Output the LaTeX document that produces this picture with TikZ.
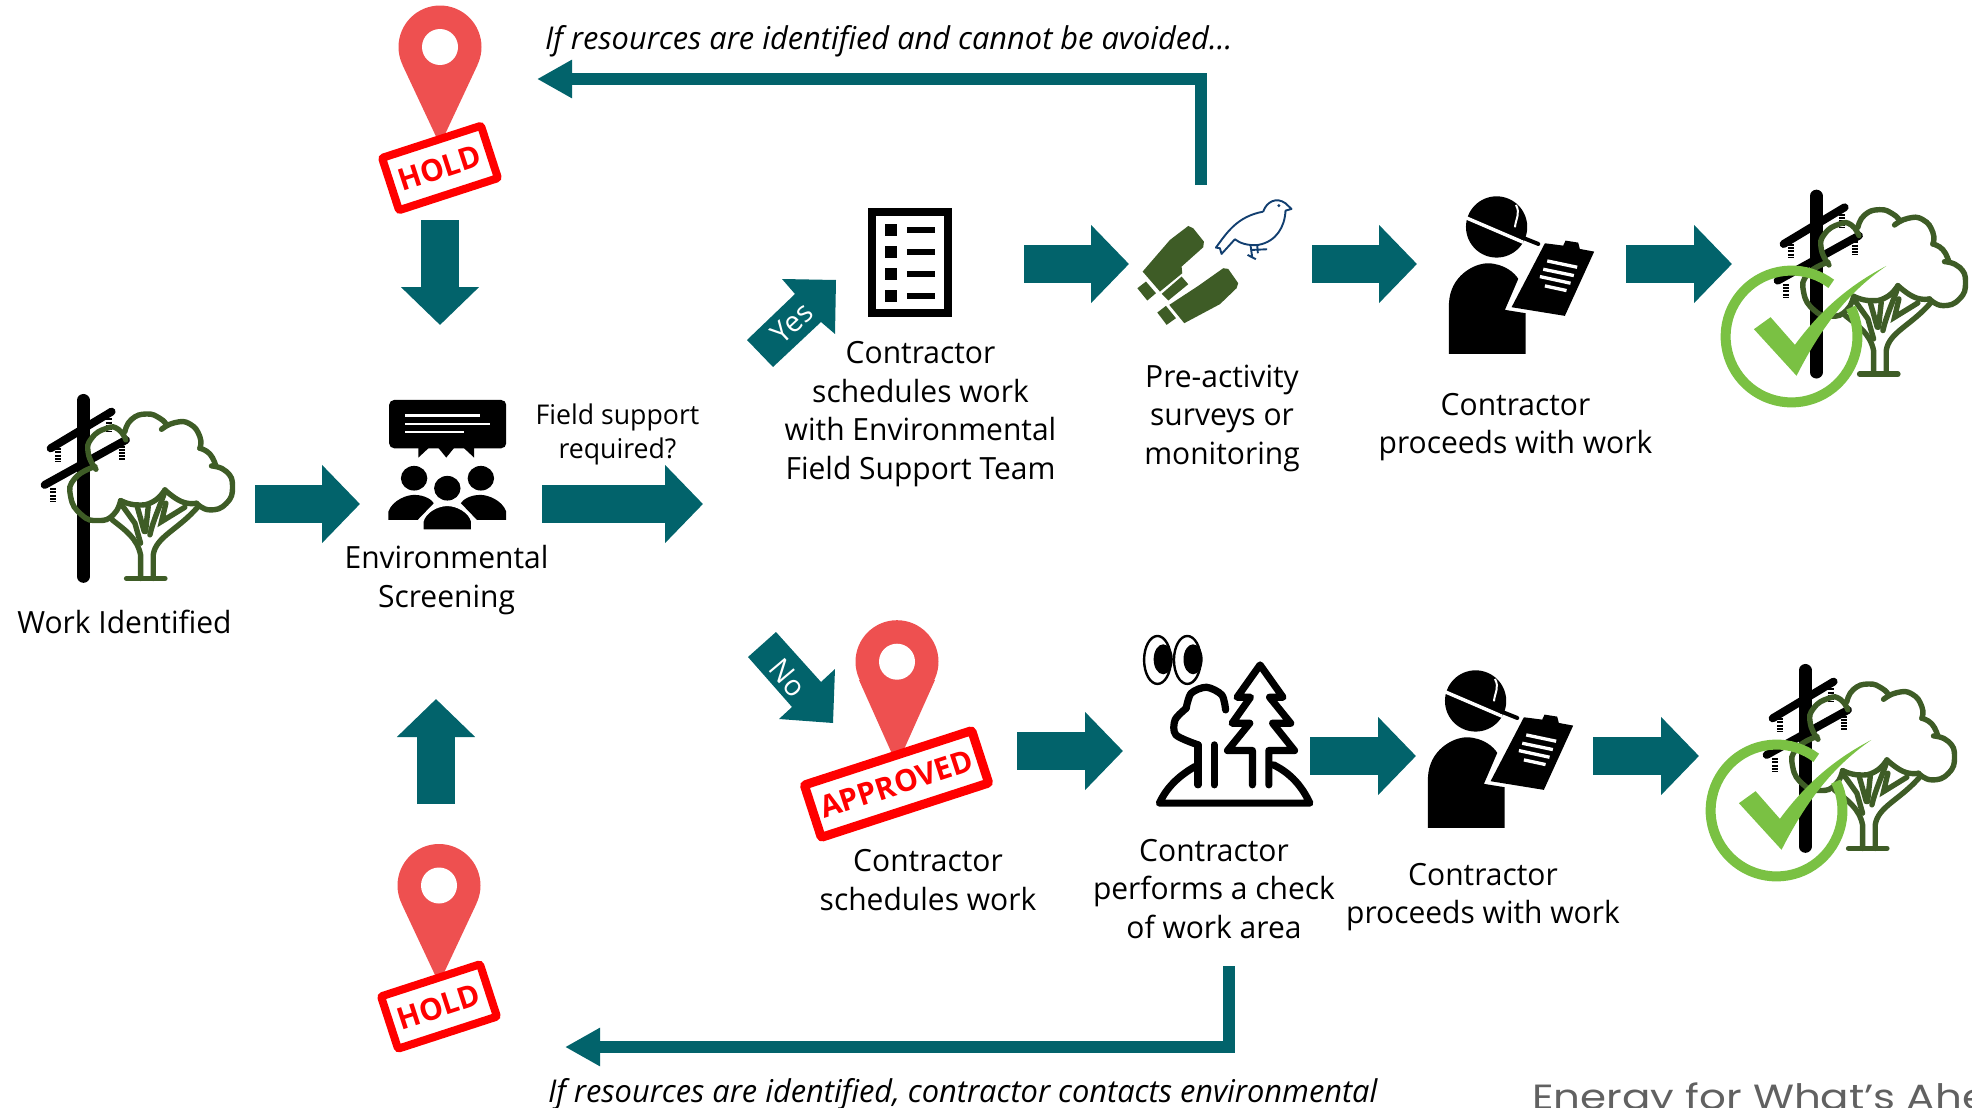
\documentclass[tikz,border=0pt]{standalone}
\usepackage{fontspec}
\setmainfont{Open Sans}[FakeStretch=0.98]
\newfontfamily\energyfont{Poppins}[FakeStretch=1.2]
\usetikzlibrary{arrows.meta}
\definecolor{flowteal}{HTML}{02636B}
\definecolor{pinred}{HTML}{EE5050}
\definecolor{treegreen}{HTML}{3E5C26}
\definecolor{checkgreen}{HTML}{7AC143}
\definecolor{birdblue}{HTML}{123F70}

\tikzset{
  flowarrow/.style={draw=flowteal,line width=19pt,-{Triangle[length=19pt,width=38pt]}},
  elbowarrow/.style={draw=flowteal,line width=6pt,-{Triangle[length=17.5pt,width=18pt]}},
  label/.style={align=center,font=\fontsize{15.3}{19.25}\selectfont},
  note/.style={anchor=west,font=\fontsize{15.7}{19}\selectfont\itshape},
  stamp/.style={draw=red,fill=white,text=red,rounded corners=1pt,rotate=18,inner sep=0pt,font=\fontsize{15.2}{17}\selectfont\bfseries},
  lobe/.style={smooth,tension=0.9},
  poletree/.pic={
    \begin{scope}[scale=0.333]
    % pole and cross arms
    \draw[line width=6.35pt,line cap=round] (100,31) -- (100,560);
    \draw[line width=4pt,line cap=round] (2,175) -- (185,65);
    \draw[line width=4pt,line cap=round] (-16,285) -- (228,150);
    \foreach \ix/\iy in {25/175,178/85,215/167,9/295}
      \draw[line width=3pt,dash pattern=on 1pt off 0.6pt] (\ix,\iy) -- ++(0,42);
    % crown of the tree
    \begin{scope}[draw=treegreen,line width=2.7pt,line cap=round]
    \draw plot[lobe] coordinates {(138,238) (115,190) (125,145) (170,115) (205,118) (228,150)};
    \draw plot[lobe] coordinates {(225,125) (245,88) (290,72) (330,85) (350,105)};
    \draw plot[lobe] coordinates {(335,118) (375,98) (420,102) (450,140) (450,175)};
    \draw plot[lobe] coordinates {(450,175) (480,192) (498,228)};
    \draw plot[lobe] coordinates {(485,228) (530,245) (548,290) (530,340) (480,360) (440,340)};
    \draw plot[lobe] coordinates {(440,340) (395,335) (345,300)};
    \draw plot[lobe] coordinates {(345,300) (310,335) (260,345) (212,332)};
    \draw plot[lobe] coordinates {(212,332) (190,375) (145,392) (95,375) (62,320) (75,265) (135,230)};
    % trunk
    \draw (230,566) -- (345,566);
    \draw (272,566) -- (272,495) .. controls (262,445) and (225,420) .. (187,390);
    \draw (310,566) -- (310,495) .. controls (318,440) and (385,420) .. (445,350);
    \draw (212,340) -- (255,400) -- (272,460);
    \draw (262,350) -- (283,425);
    \draw (295,350) -- (287,425);
    \draw (345,305) .. controls (330,350) and (310,390) .. (300,435);
    \draw (348,340) -- (335,395) -- (405,352);
    \end{scope}
    \end{scope}
  },
  donecheck/.pic={
    \begin{scope}[scale=0.333]
    \draw[checkgreen,line width=5pt] plot[domain=53:386,samples=70] ({335+198*cos(\x)},{500-198*sin(\x)});
    \fill[checkgreen] (222,478) -- (272,442) -- (345,525) .. controls (430,410) and (520,340) .. (620,288)
      .. controls (500,370) and (420,480) .. (350,618) -- cycle;
    \end{scope}
  },
  holdpin/.pic={
    \fill[pinred] (0,0) circle[radius=41.5] (-37.5,18) -- (37.5,18) -- (0,98) -- cycle;
    \fill[white] (0,0) circle[radius=18];
    \node[stamp,line width=4pt,minimum width=52pt,minimum height=27.5pt] (-stamp) at (0,121) {HOLD};
  },
  contractor/.pic={
    \begin{scope}[scale=0.333]
    \fill (200,141) circle[radius=92];
    \draw[white,line width=1.7pt] (105,112) -- (280,187);
    \draw[line width=2pt,line cap=round] (275,172) -- (325,192);
    \draw[white,line width=1pt] (258,75) .. controls (272,100) and (258,115) .. (255,142);
    \fill (57,522) -- (57,370) .. controls (60,290) and (130,250) .. (175,250)
      .. controls (225,252) and (255,280) .. (265,297) -- (225,390) -- (287,400) -- (287,522) -- cycle;
    \fill (345,190) -- (400,197) -- (407,182) -- (445,188) -- (450,207) -- (493,215) -- (405,408) -- (245,382) -- cycle;
    \foreach \ax/\ay/\bx/\by in {352/243/442/262,340/268/432/287,330/290/422/310,345/318/410/332}
      \draw[white,line width=1.65pt] (\ax,\ay) -- (\bx,\by);
    \end{scope}
  },
}

\begin{document}
\begin{tikzpicture}[x=0.5pt,y=-0.5pt]
\path[use as bounding box,clip] (0,0) rectangle (1972,1108);

% Work identified
\pic (workstart) at (50,390) {poletree};
\node[label] (workident) at (124.5,622) {Work Identified};

% Environmental screening icon
\begin{scope}[shift={(0,380)},xscale=0.357,yscale=0.333]
\fill[rounded corners=2.5pt] (1090,60) rectangle (1418,205);
\fill (1172,200) -- (1172,233) -- (1205,200) -- cycle (1225,200) -- (1250,233) -- (1275,200) -- cycle (1295,200) -- (1328,233) -- (1328,200) -- cycle;
\foreach \lx/\ly in {1345/107,1372/132,1300/157}
  \draw[white,line width=1.2pt] (1135,\ly) -- (\lx,\ly);
\fill (1160,295) ellipse[x radius=37,y radius=37] (1347,295) ellipse[x radius=37,y radius=37];
\fill (1088,420) -- (1088,395) .. controls (1100,360) and (1140,345) .. (1160,345) .. controls (1190,345) and (1210,360) .. (1215,370) -- (1170,420) -- cycle;
\fill (1418,420) -- (1418,395) .. controls (1406,360) and (1366,345) .. (1346,345) .. controls (1316,345) and (1296,360) .. (1291,370) -- (1336,420) -- cycle;
\fill[draw=white,line width=1.2pt] (1183,452) -- (1183,425) .. controls (1190,395) and (1225,375) .. (1253,375) .. controls (1281,375) and (1316,395) .. (1323,425) -- (1323,452) -- cycle;
\fill (1253,325) ellipse[x radius=37,y radius=37];
\end{scope}
\node[label] (screening) at (446.5,580) {Environmental\\Screening};
\node[align=center,font=\fontsize{13.6}{17}\selectfont] (fieldsupport) at (617.5,434) {Field support\\required?};

% Hold pins
\pic (holdtop) at (440,47) {holdpin};
\pic (holdbottom) at (439,885.5) {holdpin};

% Yes branch
\fill[flowteal] (747,340) -- (795,294) -- (782,279) -- (836,280) -- (835,334) -- (821,322) -- (773,367) -- cycle;
\node[white,rotate=43,font=\fontsize{14.5}{16}\selectfont] (yeslabel) at (792,323) {Yes};
\begin{scope}[shift={(730,190)},scale=0.333]
\draw[line width=4pt] (425,67) rectangle (656,370);
\foreach \iy in {120,186,252,318}{
  \fill (465,\iy-18) rectangle (500,\iy+17);
  \draw[line width=3pt] (531,\iy) -- (615,\iy);
}
\end{scope}
\node[label] (schedfield) at (920.5,414) {Contractor\\schedules work\\with Environmental\\Field Support Team};

% Binoculars and bird
\begin{scope}[shift={(1120,170)},scale=0.333]
\fill[treegreen] (68,305) -- (150,210) -- (205,168) -- (220,175) -- (252,215) -- (250,232) -- (185,290) -- (187,310) -- (120,365) -- cycle;
\fill[treegreen] (52,355) -- (78,335) -- (108,370) -- (82,392) -- cycle;
\fill[treegreen] (125,372) -- (185,320) -- (205,343) -- (145,392) -- cycle;
\fill[treegreen] (148,405) -- (235,348) -- (310,295) -- (325,297) -- (355,340) -- (350,355) -- (300,403) -- (193,460) -- cycle;
\fill[treegreen] (112,428) -- (138,408) -- (168,445) -- (140,465) -- cycle;
\draw[birdblue,line width=0.95pt,line join=round] (430,125) .. controls (440,95) and (470,80) .. (497,100) -- (515,117) -- (497,122)
  .. controls (495,170) and (470,215) .. (415,225) .. controls (385,228) and (360,220) .. (345,208)
  -- (305,252) -- (300,235) -- (288,233) .. controls (320,190) and (350,140) .. (430,125);
\fill[birdblue] (477,107) circle[radius=5];
\draw[birdblue,line width=0.95pt] (392,226) -- (397,262) (383,255) -- (408,268) (412,226) -- (414,250) (397,240) -- (442,238);
\end{scope}
\node[label] (preactivity) at (1222,418) {Pre-activity\\surveys or\\monitoring};

% Contractor proceeds, upper row
\pic (proceedtop) at (1430,180) {contractor};
\node[label] (proceedone) at (1515.5,427) {Contractor\\proceeds with work};
\pic (doneone) at (1783,185.7) {poletree};
\pic (checkone) at (1680,170) {donecheck};

% No branch
\fill[flowteal] (748,657) -- (776,632) -- (821,682) -- (835,669) -- (833,723) -- (779,719) -- (792,707) -- cycle;
\node[white,rotate=-50,font=\fontsize{14.5}{16}\selectfont] (nolabel) at (788,678) {No};
\fill[pinred] (897,661.7) circle[radius=41.5] (859,680) -- (935,680) -- (897,765) -- cycle;
\fill[white] (897,661.7) circle[radius=18];
\node[stamp,line width=4.5pt,minimum width=88pt,minimum height=27.5pt] (approved) at (896.5,784) {APPROVED};
\node[label] (schedwork) at (928,880) {Contractor\\schedules work};

% Forest with eyes
\begin{scope}[shift={(730,610)},xscale=0.3827,yscale=0.333,line width=3.6pt,line cap=round,line join=round]
\draw[line width=1.2pt] (1117,150) ellipse[x radius=35,y radius=72] (1195,150) ellipse[x radius=35,y radius=72];
\fill (1132,148) ellipse[x radius=25,y radius=45] (1210,148) ellipse[x radius=25,y radius=45];
\draw plot[smooth] coordinates {(1295,300) (1285,255) (1245,232) (1205,250) (1192,295)};
\draw plot[smooth] coordinates {(1192,295) (1163,330) (1165,375) (1223,405)};
\draw (1223,405) -- (1223,525) (1265,405) -- (1265,525);
\draw (1365,525) -- (1365,422) -- (1300,422) -- (1358,340) -- (1312,340) -- (1360,262) -- (1325,262) -- (1385,165) -- (1445,262) -- (1410,262) -- (1465,340) -- (1418,340) -- (1475,422) -- (1408,422) -- (1408,525);
\draw (1215,470) .. controls (1170,500) and (1140,535) .. (1122,580) -- (1515,580) .. controls (1495,530) and (1465,490) .. (1420,465);
\end{scope}
\node[label] (checkarea) at (1214,889) {Contractor\\performs a check\\of work area};

% Contractor proceeds, lower row
\pic (proceedbottom) at (1409,654) {contractor};
\node[label] (proceedtwo) at (1483,897) {Contractor\\proceeds with work};
\pic (donetwo) at (1772,660) {poletree};
\pic (checktwo) at (1665,644) {donecheck};

% Set coordinates for the block arrows
\coordinate (a1s) at (255,504); \coordinate (a1e) at (360,504);
\coordinate (a2s) at (542,504); \coordinate (a2e) at (703,504);
\coordinate (a3s) at (1024,264); \coordinate (a3e) at (1129,264);
\coordinate (a4s) at (1312,264); \coordinate (a4e) at (1417,264);
\coordinate (a5s) at (1626,264); \coordinate (a5e) at (1732,264);
\coordinate (a6s) at (1017,751); \coordinate (a6e) at (1123,751);
\coordinate (a7s) at (1310,756); \coordinate (a7e) at (1416,756);
\coordinate (a8s) at (1593,756); \coordinate (a8e) at (1699,756);
\coordinate (dns) at (440,220); \coordinate (dne) at (440,325);
\coordinate (ups) at (436,804); \coordinate (upe) at (436,699);

% Draw block arrows
\foreach \ia in {a1,a2,a3,a4,a5,a6,a7,a8,dn,up}
  \draw[flowarrow] (\ia s) -- (\ia e);

% Draw return arrows
\coordinate (rtops) at (1201,185); \coordinate (rtope) at (537,79);
\coordinate (rbots) at (1229,966); \coordinate (rbote) at (565,1047);
\draw[elbowarrow] (rtops) |- (rtope);
\draw[elbowarrow] (rbots) |- (rbote);
\node[note] (notetop) at (538,41) {If resources are identified and cannot be avoided\dots};
\node[note] (notebottom) at (541,1094) {If resources are identified, contractor contacts environmental};

% Footer, cut by the edge
\node[anchor=base west,text=black!62,font=\fontsize{17.5}{20}\energyfont] (footer) at (1525,1109) {Energy for What’s Ahead};
\end{tikzpicture}
\end{document}
